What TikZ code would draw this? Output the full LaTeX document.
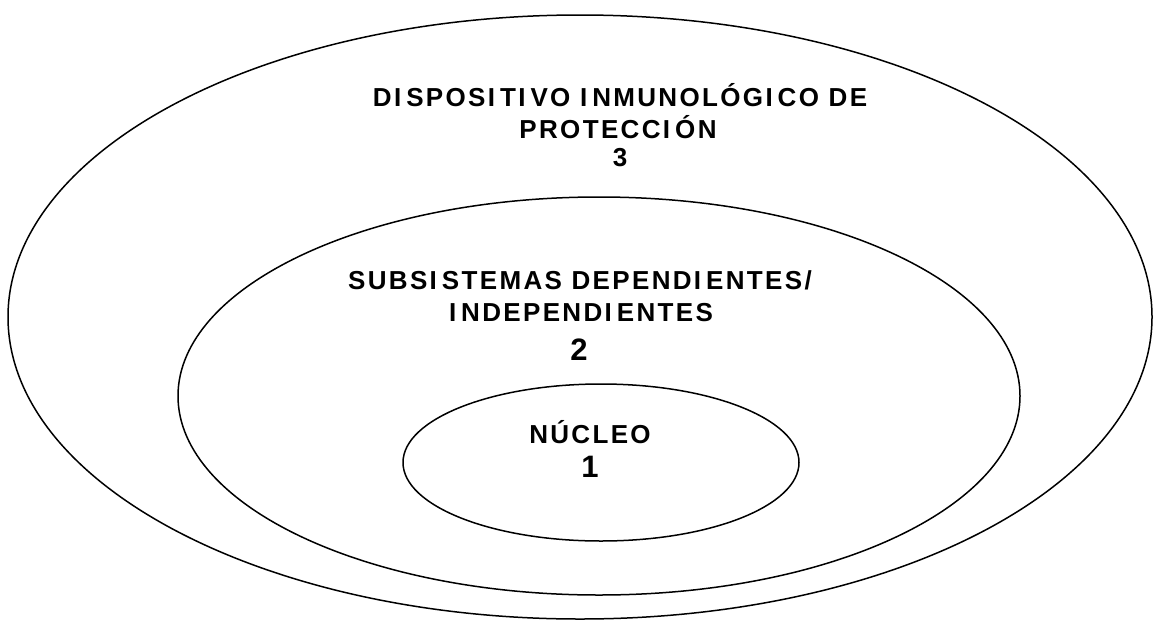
\documentclass[tikz,border=0pt]{standalone}
\usepackage{fontspec}
\setmainfont{Liberation Sans}
\newcommand\gI{I\kern5pt}
\begin{document}
\begin{tikzpicture}[x=1pt,y=-1pt,
  ring/.style={draw=black,line width=1.5pt},
  lbl/.style={font=\bfseries\fontsize{26}{30}\selectfont\addfontfeature{LetterSpace=9},inner sep=0pt,anchor=center},
  num/.style={font=\bfseries\fontsize{31}{34}\selectfont,inner sep=0pt,anchor=center}]
\useasboundingbox (0,0) rectangle (1158,624);
\fill[white] (0,0) rectangle (1158,624);
\draw[ring] (580,317) ellipse [x radius=572, y radius=302];
\draw[ring] (599,396) ellipse [x radius=421, y radius=199];
\draw[ring] (601,462.5) ellipse [x radius=198, y radius=78.5];
\node[lbl] (t3a) at (620,95) {D\gI SPOS\gI T\gI VO \gI NMUNOLÓG\gI CO DE};
\node[lbl] (t3b) at (618,127) {PROTECC\gI ÓN};
\node[lbl] (t3c) at (620,158) {3};
\node[lbl] (t2a) at (580,280) {SUBS\gI STEMAS DEPEND\gI ENTES/};
\node[lbl] (t2b) at (581,313) {\gI NDEPEND\gI ENTES};
\node[num] (t2c) at (579,350) {2};
\node[lbl] (t1a) at (590,432) {NÚCLEO};
\node[num] (t1b) at (590,467) {1};
\end{tikzpicture}
\end{document}
